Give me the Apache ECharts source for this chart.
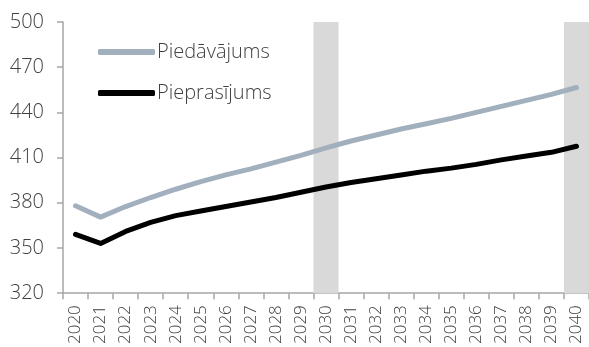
<!DOCTYPE html>
<html><head><meta charset="utf-8">
<script src="https://cdn.jsdelivr.net/npm/echarts@6/dist/echarts.min.js"></script>
<style>html,body{margin:0;padding:0;background:#fff}#c{width:589px;height:347px}</style>
</head><body><div id="c"></div>
<script>
const years = ["2020","2021","2022","2023","2024","2025","2026","2027","2028","2029","2030","2031","2032","2033","2034","2035","2036","2037","2038","2039","2040"];
const piedavajums = [378,370.5,377.5,383.5,389,394,398.5,402.5,407,411.5,416.5,421,425,429,432.5,436,440,444,448,452,456.5];
const pieprasijums = [359,353,361,367,371.5,374.5,377.5,380.5,383.5,387,390.5,393.5,396,398.5,401,403,405.5,408.5,411,413.5,417.5];
const shadedYears = ["2030","2040"];
const yTicks = [320,350,380,410,440,470,500];
const names = ["Piedāvājums","Pieprasījums"];

const font = "'Open Sans', 'Noto Sans', sans-serif";
const txt = '#404040';
const chart = echarts.init(document.getElementById('c'), null, {renderer:'canvas'});
chart.setOption({
  animation:false,
  grid:{left:63, top:22, width:529, bottom:52, containLabel:false},
  legend:{
    data:names, orient:'vertical', left:98, top:42, padding:0, itemWidth:57, itemHeight:6, itemGap:21,
    icon:'roundRect',
    textStyle:{fontFamily:font, fontWeight:300, fontSize:20, color:txt, lineHeight:20, padding:[0,0,0,-3]}
  },
  xAxis:{
    type:'category', data:years, boundaryGap:true,
    axisLine:{lineStyle:{color:'#a6a6a6', width:1.5}},
    axisTick:{show:true, length:6, lineStyle:{color:'#a6a6a6', width:1.5}},
    axisLabel:{rotate:90, fontFamily:font, fontWeight:300, fontSize:17, color:txt, margin:12, interval:0}
  },
  yAxis:{
    type:'value', min:yTicks[0], max:yTicks[yTicks.length-1], interval:30,
    splitLine:{show:false},
    axisLine:{show:true, lineStyle:{color:'#a6a6a6', width:1.5}},
    axisTick:{show:true, length:6, lineStyle:{color:'#a6a6a6', width:1.5}},
    axisLabel:{fontFamily:font, fontWeight:300, fontSize:20, color:txt, margin:19}
  },
  series:[
    {type:'bar', name:'band', data:years.map(y=>shadedYears.includes(y)?yTicks[yTicks.length-1]:null),
     barWidth:'100%', itemStyle:{color:'#d9d9d9'}, silent:true, z:1},
    {type:'line', name:names[0], data:piedavajums, showSymbol:false, symbol:'none',
     lineStyle:{color:'#a2b0be', width:5, cap:'round', join:'round'}, itemStyle:{color:'#a2b0be'}, z:3},
    {type:'line', name:names[1], data:pieprasijums, showSymbol:false, symbol:'none',
     lineStyle:{color:'#000000', width:5, cap:'round', join:'round'}, itemStyle:{color:'#000000'}, z:4}
  ]
});
</script></body></html>
